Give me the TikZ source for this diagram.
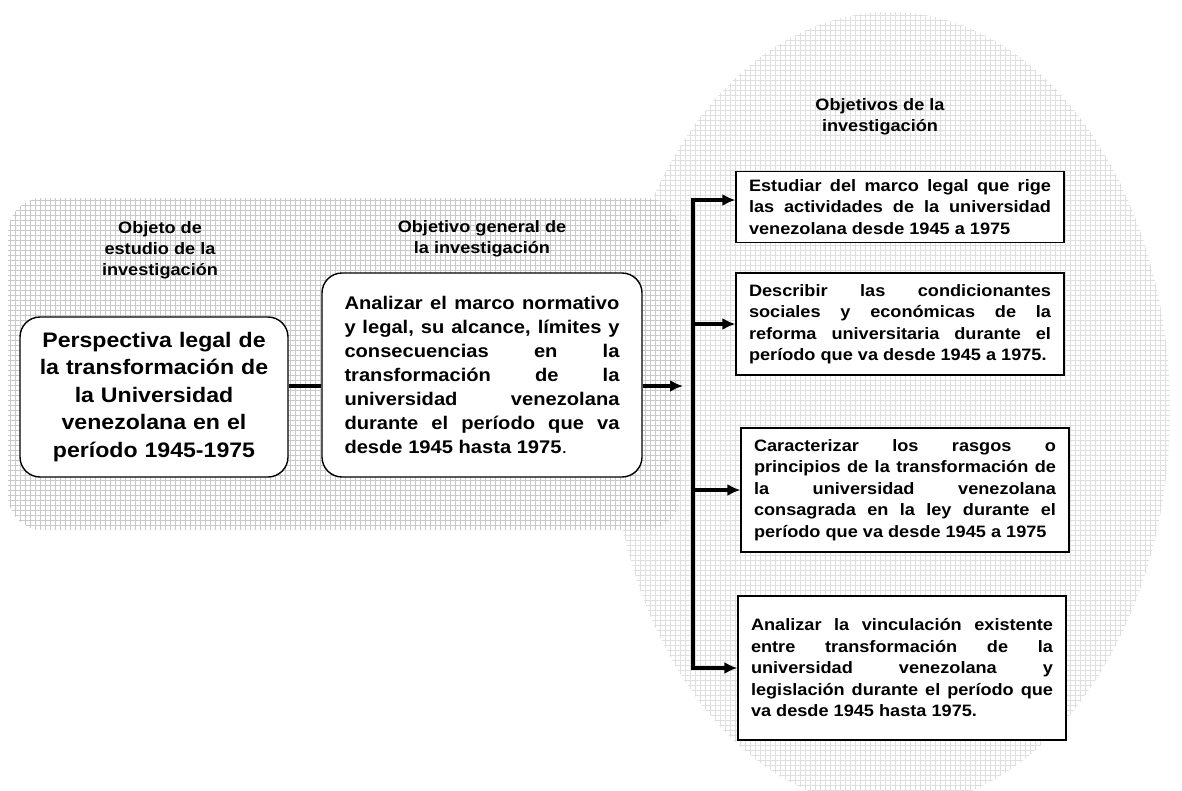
\documentclass[tikz,border=0pt]{standalone}
\usepackage{fontspec}
\setmainfont{Liberation Sans}[FakeStretch=1.1]
\usetikzlibrary{positioning,arrows.meta}
\hyphenpenalty=10000
\exhyphenpenalty=10000
\tolerance=10000
\tikzstyle{caja}=[draw, rounded corners=20pt, fill=white, line width=1.4pt, align=center]
\tikzstyle{meta}=[draw, fill=white, line width=1.2pt, text width=302pt, inner xsep=13pt, align=justify, font=\fontsize{16.5}{21.5}\selectfont\bfseries]
\tikzstyle{titulo}=[align=center, inner sep=0pt, font=\fontsize{16.5}{21}\selectfont\bfseries]
\tikzstyle{flecha}=[line width=3.2pt, -{Latex[length=13pt,width=12pt]}]
\tikzstyle{linea}=[line width=3.2pt]
\tikzstyle{malla}=[line width=1pt]

\begin{document}
\begin{tikzpicture}[x=1pt,y=-1pt]
    \useasboundingbox (0,0) rectangle (1182,790);
    % fondo
    \begin{scope}
        \clip (890,410) ellipse [x radius=280, y radius=398];
        \draw[malla, gray!25, step=5pt] (590,790) grid (1182,0);
    \end{scope}
    \begin{scope}
        \clip[rounded corners=35pt] (8,198) rectangle (680,530);
        \draw[malla, gray!42, step=5pt] (0,540) grid (690,190);
    \end{scope}
    % cajas
    \node[caja, text width=240pt, inner xsep=14pt, minimum height=160pt, font=\fontsize{21}{27.5}\selectfont\bfseries] (objeto) at (154,397)
        {Perspectiva legal de\\ la transformación de\\ la Universidad\\ venezolana en el\\ período 1945-1975};
    \node[caja, text width=275pt, inner xsep=22.5pt, minimum height=204pt, align=justify, font=\fontsize{18.3}{24}\selectfont\bfseries] (general) at (482,375)
        {Analizar el marco normativo\linebreak y legal, su alcance, límites y\linebreak consecuencias en la\linebreak transformación de la\linebreak universidad venezolana\linebreak durante el período que va\linebreak desde 1945 hasta 1975{\mdseries .}};
    \node[meta, minimum height=71pt] (obj1) at (900,207)
        {Estudiar del marco legal que rige\linebreak las actividades de la universidad\linebreak venezolana desde 1945 a 1975};
    \node[meta, minimum height=102pt] (obj2) at (900,324)
        {Describir las condicionantes\linebreak sociales y económicas de la\linebreak reforma universitaria durante el\linebreak período que va desde 1945 a 1975.};
    \node[meta, minimum height=124pt] (obj3) at (905,490)
        {Caracterizar los rasgos o\linebreak principios de la transformación de\linebreak la universidad venezolana\linebreak consagrada en la ley durante el\linebreak período que va desde 1945 a 1975};
    \node[meta, minimum height=144pt] (obj4) at (902,668)
        {Analizar la vinculación existente\linebreak entre transformación de la\linebreak universidad venezolana y\linebreak legislación durante el período que\linebreak va desde 1945 hasta 1975.};
    % titulos
    \node[titulo] (tobjeto) [above=37pt of objeto, xshift=6pt] {Objeto de\\ estudio de la\\ investigación};
    \node[titulo] (tgeneral) [above=15pt of general] {Objetivo general de\\ la investigación};
    \node[titulo] (tobjetivos) [above=36pt of obj1, xshift=-20pt] {Objetivos de la\\ investigación};
    % conectores
    \coordinate (union) at (683,386);
    \coordinate (barra) at (693,200);
    \draw[linea] (objeto.east |- union) -- (general.west |- union);
    \draw[flecha] (general.east |- union) -- (union);
    \draw[flecha] (barra |- obj4.west) -- (barra) -- (obj1.west |- barra);
    \draw[flecha] (barra) |- (obj4.west);
    \draw[flecha] (barra |- obj2.west) -- (obj2.west);
    \draw[flecha] (barra |- obj3.west) -- (obj3.west);
\end{tikzpicture}
\end{document}
